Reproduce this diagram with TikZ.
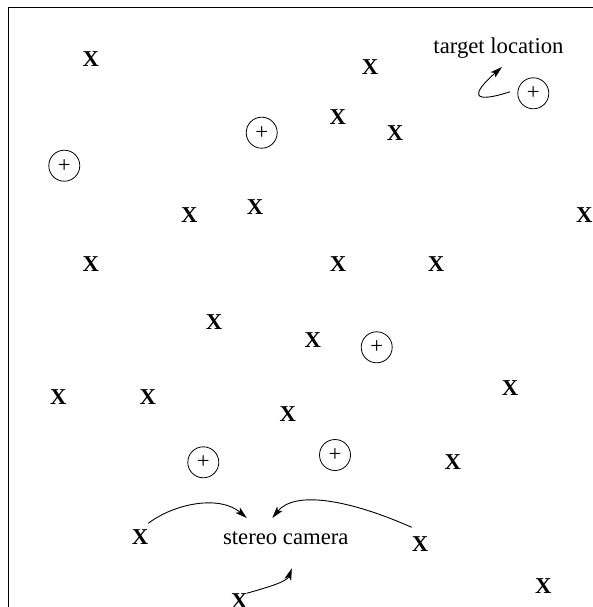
\documentclass[tikz,border=0pt]{standalone}
\usepackage{fontspec}
\setmainfont{Liberation Serif}
\usetikzlibrary{arrows.meta,calc}
\begin{document}
\begin{tikzpicture}[x=1pt,y=-1pt,
  xmark/.style={inner sep=0pt,font=\fontsize{22.7}{27}\selectfont\bfseries},
  tgt/.style={draw,circle,minimum size=31pt,inner sep=0pt,line width=0.8pt,font=\fontsize{22.7}{27}\selectfont},
  lbl/.style={inner sep=0pt,anchor=base,font=\fontsize{22.7}{27}\selectfont},
  arr/.style={line width=0.9pt,-{Stealth[length=12pt,width=7pt,inset=3pt]}}]
\useasboundingbox (0,0) rectangle (593,607);
\clip (0,0) rectangle (593,607);
\draw[line width=1pt] (8,620) -- (8,8) -- (610,8);
% X marks
\node[xmark] (x1) at (90.7,59.5) {X};
\node[xmark] (x2) at (370,67) {X};
\node[xmark] (x3) at (337.7,116.7) {X};
\node[xmark] (x4) at (395,133) {X};
\node[xmark] (x5) at (189.3,215) {X};
\node[xmark] (x6) at (255,207.3) {X};
\node[xmark] (x7) at (584.3,215) {X};
\node[xmark] (x8) at (90.7,264.3) {X};
\node[xmark] (x9) at (338,264.3) {X};
\node[xmark] (x10) at (436,264.3) {X};
\node[xmark] (x11) at (214,322.3) {X};
\node[xmark] (x12) at (312.7,340) {X};
\node[xmark] (x13) at (58.3,396.7) {X};
\node[xmark] (x14) at (147.7,396.7) {X};
\node[xmark] (x15) at (510,388) {X};
\node[xmark] (x16) at (287.7,414) {X};
\node[xmark] (x17) at (452.7,462.3) {X};
\node[xmark] (x18) at (140,536.7) {X};
\node[xmark] (x19) at (420,544.3) {X};
\node[xmark] (x20) at (239.3,601.5) {X};
\node[xmark] (x21) at (543.3,585.7) {X};
% target circles
\node[tgt] (c1) at (533.3,93.3) {+};
\node[tgt] (c2) at (261.7,132.7) {+};
\node[tgt] (c3) at (64.3,165.7) {+};
\node[tgt] (c4) at (376.7,347.3) {+};
\node[tgt] (c5) at (203.3,462.3) {+};
\node[tgt] (c6) at (335,455) {+};
% labels
\node[lbl] (tl) at (498.5,53.5) {target location};
\node[lbl] (cam) at (285.8,544) {stereo camera};
% arrows
\draw[arr] ($(c1)+(-23.3,-1.5)$) .. controls ($(c1)+(-61.3,10.7)$) and ($(c1)+(-63.3,1.7)$) .. ($(tl.base)+(3.5,13.5)$);
\draw[arr] ($(x18)+(8.3,-13.4)$) .. controls (175,503) and (220,495) .. ($(cam.base)+(-39,-26)$);
\draw[arr] ($(x19)+(-8.3,-17)$) .. controls (350,500) and (295,490) .. ($(cam.base)+(-13.5,-26)$);
\draw[arr] ($(x20)+(7.4,-8.2)$) .. controls (265,588) and (287,582) .. ($(cam.base)+(6,24.3)$);
\end{tikzpicture}
\end{document}
